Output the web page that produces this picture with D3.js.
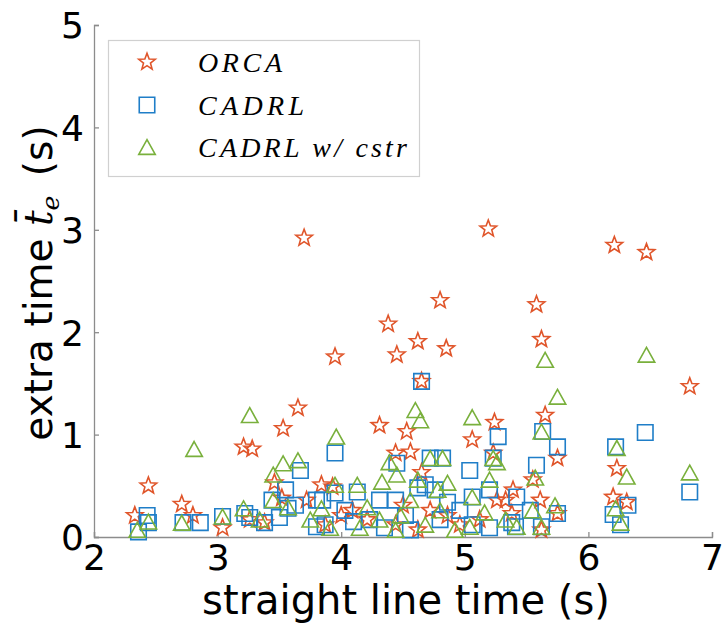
<!DOCTYPE html>
<html>
<head>
<meta charset="utf-8">
<script src="https://cdn.jsdelivr.net/npm/d3@7"></script>
<style>
  html, body { margin: 0; padding: 0; background: #fff; }
  svg { display: block; }
</style>
</head>
<body>
<svg id="chart" width="723" height="626"></svg>
<script>
// Straight line time (s) vs. extra time (s) for each method
const orcaX = [3.70, 5.19, 6.21, 6.47, 3.95, 4.38, 4.45, 4.80, 4.85, 4.62, 5.58, 5.62, 6.82, 4.65, 3.65, 3.53,
  3.21, 3.28, 2.44, 2.33, 2.71, 2.80, 3.04, 3.26, 3.38, 3.46, 3.52, 3.72, 3.84, 3.93, 4.09, 4.31,
  4.53, 4.44, 4.56, 4.65, 5.06, 5.24, 5.23, 5.39, 5.33, 4.86, 5.65, 5.75, 5.55, 5.61, 6.23, 6.20,
  6.31, 5.62, 5.75, 5.38, 4.21, 4.72, 4.96, 3.87, 4.00, 4.44, 4.62, 5.26, 5.12, 4.50];
const orcaY = [2.92, 3.01, 2.85, 2.78, 1.76, 2.08, 1.78, 2.31, 1.84, 1.91, 2.27, 1.93, 1.47, 1.52, 1.26, 1.06,
  0.88, 0.86, 0.50, 0.21, 0.32, 0.21, 0.09, 0.17, 0.14, 0.53, 0.38, 0.36, 0.51, 0.49, 0.26, 1.09,
  1.03, 0.82, 0.83, 0.63, 0.95, 1.12, 0.82, 0.46, 0.36, 0.21, 1.19, 0.77, 0.56, 0.36, 0.67, 0.39,
  0.34, 0.07, 0.23, 0.23, 0.17, 0.26, 0.12, 0.12, 0.21, 0.12, 0.07, 0.36, 0.17, 0.31];

const cadrlX = [4.65, 6.46, 6.82, 6.22, 6.32, 6.20, 6.26, 5.63, 5.75, 5.58, 5.27, 5.42, 5.75, 5.62, 5.38, 5.04,
  5.23, 4.72, 4.82, 4.86, 4.68, 5.06, 5.20, 5.06, 5.20, 5.41, 3.95, 4.45, 3.95, 4.13, 3.85, 4.31,
  4.44, 4.62, 3.87, 4.10, 3.67, 3.55, 3.44, 3.57, 3.80, 3.04, 3.26, 3.38, 3.50, 3.80, 2.86, 2.72,
  2.43, 2.44, 2.36, 3.22, 3.63, 4.23, 4.35, 4.52, 4.80, 4.96, 4.56, 4.03, 4.76, 5.53];
const cadrlY = [1.52, 1.02, 0.44, 0.88, 0.31, 0.22, 0.12, 1.03, 0.88, 0.70, 0.98, 0.39, 0.23, 0.10, 0.14, 0.65,
  0.77, 0.77, 0.77, 0.34, 0.51, 0.39, 0.46, 0.12, 0.09, 0.10, 0.82, 0.72, 0.43, 0.44, 0.36, 0.36,
  0.36, 0.48, 0.12, 0.15, 0.65, 0.46, 0.36, 0.28, 0.36, 0.20, 0.19, 0.14, 0.19, 0.10, 0.14, 0.14,
  0.21, 0.14, 0.05, 0.23, 0.31, 0.17, 0.09, 0.21, 0.17, 0.26, 0.07, 0.26, 0.46, 0.26];

const cstrX = [3.26, 2.81, 3.96, 4.60, 4.64, 5.06, 5.65, 5.75, 6.47, 6.82, 6.23, 6.31, 6.22, 6.26, 5.62, 5.26,
  5.57, 5.73, 5.55, 5.42, 4.72, 4.82, 4.86, 4.78, 5.20, 5.06, 5.16, 4.92, 5.23, 4.45, 4.33, 4.39,
  4.62, 3.95, 4.13, 3.84, 4.21, 3.53, 3.65, 3.45, 3.57, 3.21, 3.04, 2.71, 2.44, 2.35, 3.45, 3.34,
  3.75, 3.91, 4.31, 4.48, 4.56, 4.68, 4.80, 4.15, 5.33, 5.04, 5.62, 4.44];
const cstrY = [1.19, 0.86, 0.98, 1.24, 1.14, 1.17, 1.73, 1.37, 1.78, 0.63, 0.87, 0.59, 0.28, 0.14, 1.03, 0.73,
  0.58, 0.31, 0.26, 0.10, 0.77, 0.77, 0.53, 0.46, 0.56, 0.39, 0.24, 0.07, 0.77, 0.61, 0.54, 0.73,
  0.56, 0.51, 0.51, 0.28, 0.29, 0.72, 0.75, 0.61, 0.29, 0.28, 0.20, 0.14, 0.15, 0.07, 0.36, 0.17,
  0.17, 0.09, 0.17, 0.21, 0.36, 0.12, 0.26, 0.09, 0.17, 0.10, 0.10, 0.07];

const xTicks = [2, 3, 4, 5, 6, 7];
const yTicks = [0, 1, 2, 3, 4, 5];
const seriesNames = ["ORCA", "CADRL", "CADRL w/ cstr"];
const seriesColors = ["#e0552a", "#1f7ec8", "#79b03c"];

const svg = d3.select("#chart");
const margin = { left: 94, right: 11, top: 25, bottom: 89 };
const W = 723, H = 626;

const x = d3.scaleLinear().domain([2, 7]).range([margin.left, W - margin.right]);
const y = d3.scaleLinear().domain([0, 5]).range([H - margin.bottom, margin.top]);

// Custom marker shapes: outlined pentagram, square, upward triangle
const starType = {
  draw(ctx, size) {
    const R = Math.sqrt(size), r = R * 0.42;
    for (let i = 0; i < 10; i++) {
      const a = -Math.PI / 2 + i * Math.PI / 5;
      const rad = i % 2 === 0 ? R : r;
      const px = rad * Math.cos(a), py = rad * Math.sin(a);
      if (i === 0) ctx.moveTo(px, py); else ctx.lineTo(px, py);
    }
    ctx.closePath();
  }
};
const squareType = {
  draw(ctx, size) {
    const h = Math.sqrt(size) / 2;
    ctx.moveTo(-h, -h); ctx.lineTo(h, -h); ctx.lineTo(h, h); ctx.lineTo(-h, h); ctx.closePath();
  }
};
const triType = {
  draw(ctx, size) {
    const s = Math.sqrt(size);
    const w = s / 2, hh = s * 0.45;
    ctx.moveTo(0, -hh); ctx.lineTo(w, hh); ctx.lineTo(-w, hh); ctx.closePath();
  }
};

const symbols = [
  d3.symbol().type(starType).size(76),
  d3.symbol().type(squareType).size(240),
  d3.symbol().type(triType).size(272)
];

// Axes
const axisColor = "#8c8c8c";
const xAxis = d3.axisBottom(x).tickValues(xTicks).tickSize(-5).tickFormat(d3.format("d"));
const yAxis = d3.axisLeft(y).tickValues(yTicks).tickSize(-5).tickFormat(d3.format("d"));

const gx = svg.append("g").attr("transform", `translate(0,${y(0)})`).call(xAxis);
const gy = svg.append("g").attr("transform", `translate(${x(2)},0)`).call(yAxis);

[gx, gy].forEach(g => {
  g.select(".domain").attr("stroke", axisColor).attr("stroke-width", 1.3);
  g.selectAll(".tick line").attr("stroke", axisColor).attr("stroke-width", 1.3);
  g.selectAll(".tick text")
    .attr("fill", "#000")
    .style("font-family", "DejaVu Sans, sans-serif")
    .style("font-size", "36px");
});
gx.selectAll(".tick text").attr("y", 7).attr("dy", "0.71em");
gy.selectAll(".tick text").attr("x", -10).attr("dy", "0.36em");

// Data series
const series = [
  d3.zip(orcaX, orcaY),
  d3.zip(cadrlX, cadrlY),
  d3.zip(cstrX, cstrY)
];

series.forEach((pts, i) => {
  svg.append("g")
    .selectAll("path")
    .data(pts)
    .join("path")
    .attr("transform", d => `translate(${x(d[0])},${y(d[1])})`)
    .attr("d", symbols[i]())
    .attr("fill", "none")
    .attr("stroke", seriesColors[i])
    .attr("stroke-width", 1.6);
});

// Axis titles
svg.append("text")
  .attr("x", 406)
  .attr("y", 614)
  .attr("text-anchor", "middle")
  .style("font-family", "DejaVu Sans, sans-serif")
  .style("font-size", "40px")
  .text("straight line time (s)");

const yl = svg.append("text")
  .attr("transform", "translate(52,283) rotate(-90)")
  .attr("text-anchor", "middle")
  .style("font-family", "DejaVu Sans, sans-serif")
  .style("font-size", "39px");
yl.append("tspan").text("extra time ");
yl.append("tspan")
  .style("font-family", "DejaVu Serif, serif")
  .style("font-style", "italic")
  .text("t\u0304");
yl.append("tspan")
  .style("font-family", "DejaVu Serif, serif")
  .style("font-style", "italic")
  .style("font-size", "25px")
  .attr("dy", 7)
  .text("e");
yl.append("tspan").attr("dy", -7).text("\u2002(s)");

// Legend
const legend = svg.append("g");
legend.append("rect")
  .attr("x", 108.5).attr("y", 40.5)
  .attr("width", 311).attr("height", 136)
  .attr("fill", "#fff")
  .attr("stroke", "#d0d0d0")
  .attr("stroke-width", 1.2);

const legendRows = [62, 105, 147];
const legendWidths = [84, 106, 209];
seriesNames.forEach((name, i) => {
  legend.append("path")
    .attr("transform", `translate(147,${legendRows[i]})`)
    .attr("d", symbols[i]())
    .attr("fill", "none")
    .attr("stroke", seriesColors[i])
    .attr("stroke-width", 1.6);
  legend.append("text")
    .attr("x", 198)
    .attr("y", legendRows[i] + 10)
    .attr("textLength", legendWidths[i])
    .attr("lengthAdjust", "spacing")
    .style("font-family", "Liberation Serif, serif")
    .style("font-style", "italic")
    .style("font-size", "28px")
    .text(name);
});
</script>
</body>
</html>
